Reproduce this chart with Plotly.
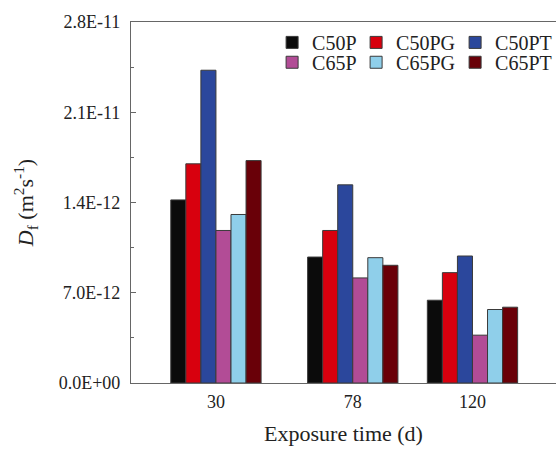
import plotly.graph_objects as go

exposure_days = [30, 78, 120]
series_names = ["C50P", "C50PG", "C50PT", "C65P", "C65PG", "C65PT"]
C50P = [1.42e-11, 9.77e-12, 6.42e-12]
C50PG = [1.70e-11, 1.183e-11, 8.56e-12]
C50PT = [2.426e-11, 1.537e-11, 9.85e-12]
C65P = [1.183e-11, 8.15e-12, 3.71e-12]
C65PG = [1.307e-11, 9.72e-12, 5.70e-12]
C65PT = [1.725e-11, 9.13e-12, 5.88e-12]
series_values = [C50P, C50PG, C50PT, C65P, C65PG, C65PT]
colors = ["#0b0b0b", "#d8000e", "#2b479c", "#b24c96", "#8fcfea", "#690008"]

y_tickvals = [0, 7e-12, 1.4e-11, 2.1e-11, 2.8e-11]
y_ticktext = ["0.0E+00", "7.0E-12", "1.4E-12", "2.1E-11", "2.8E-11"]

bar_w = 5.28
n = len(series_names)
legend_col_width = [39, 54, None]

fig = go.Figure()
for i, (name, vals, col) in enumerate(zip(series_names, series_values, colors)):
    kw = {}
    if legend_col_width[i % 3]:
        kw["legendwidth"] = legend_col_width[i % 3]
    fig.add_trace(go.Bar(
        x=exposure_days, y=vals, name=name,
        width=bar_w, offset=-n * bar_w / 2 + i * bar_w,
        marker=dict(color=col, line=dict(color="#3a3a3a", width=1)),
        legend="legend" if i < 3 else "legend2",
        **kw,
    ))

font_family = "Liberation Serif"
leg_common = dict(
    orientation="h", xanchor="left", yanchor="top",
    font=dict(size=20, family=font_family, color="#222"),
    bgcolor="rgba(0,0,0,0)", borderwidth=0, traceorder="normal",
)
fig.update_layout(
    width=556, height=449,
    margin=dict(l=131, r=0, t=22, b=66, autoexpand=False),
    paper_bgcolor="white", plot_bgcolor="white",
    font=dict(family=font_family, color="#222", size=18),
    barmode="overlay",
    showlegend=True,
    legend=dict(x=0.332, y=0.9975, **leg_common),
    legend2=dict(x=0.332, y=0.9425, **leg_common),
    xaxis=dict(
        range=[0.2, 149.3], tickmode="array", tickvals=exposure_days,
        ticktext=[str(v) for v in exposure_days],
        showgrid=False, zeroline=False, showline=True, linecolor="#666", linewidth=1.2,
        mirror=True, ticks="", ticklabelstandoff=2,
        tickfont=dict(size=18, family=font_family, color="#222"),
        title=dict(text="Exposure time (d)", font=dict(size=22, family=font_family, color="#222"), standoff=14),
    ),
    yaxis=dict(
        range=[0, 2.8e-11], tickmode="array", tickvals=y_tickvals, ticktext=y_ticktext,
        showgrid=False, zeroline=False, showline=True, linecolor="#666", linewidth=1.2,
        ticks="inside", ticklen=5, tickcolor="#666", ticklabelstandoff=6,
        minor=dict(ticks="inside", ticklen=3, tickcolor="#666", dtick=3.5e-12, tick0=0),
        tickfont=dict(size=18, family=font_family, color="#222"),
        title=dict(text="<i>D</i><sub>f</sub> (m<sup>2</sup>s<sup>-1</sup>)",
                   font=dict(size=22, family=font_family, color="#222"), standoff=18),
    ),
)

fig.write_html("out.html")
